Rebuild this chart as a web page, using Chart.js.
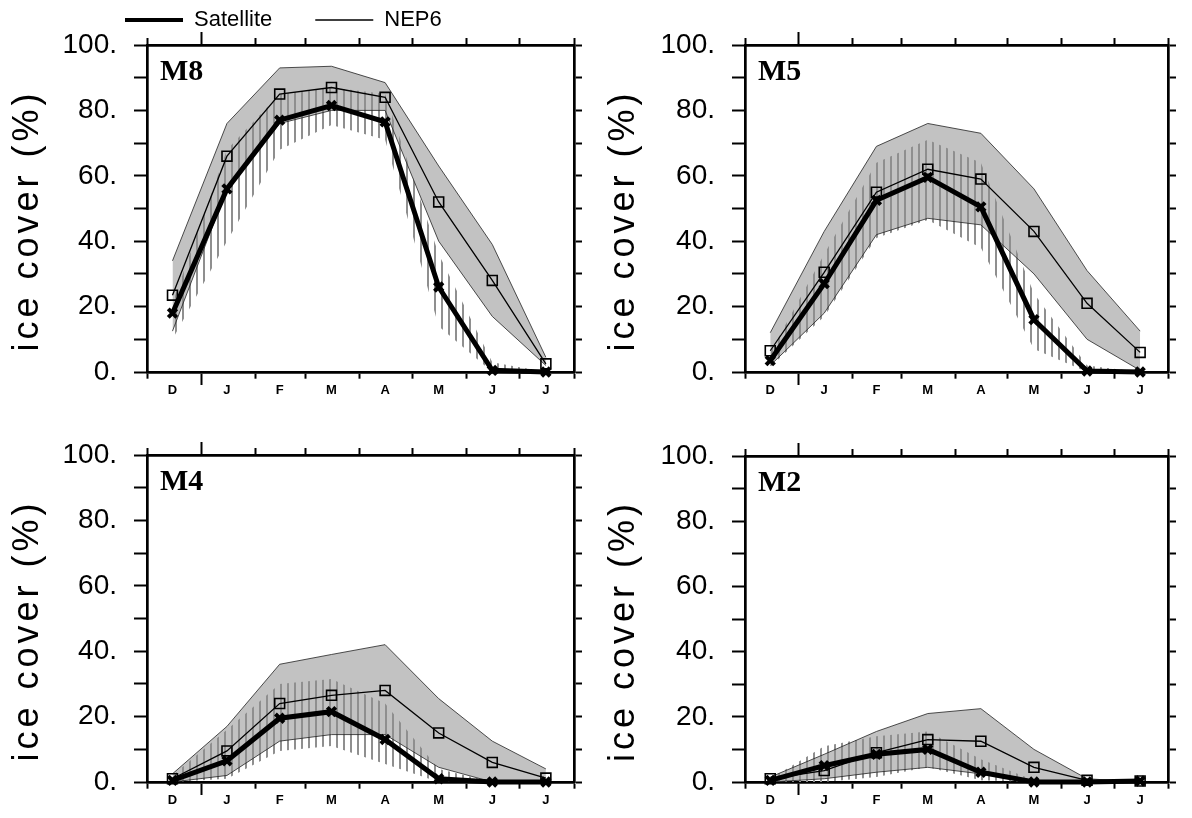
<!DOCTYPE html>
<html><head><meta charset="utf-8">
<script src="https://cdn.jsdelivr.net/npm/chart.js@4.4.1/dist/chart.umd.min.js"></script>
<style>
html,body{margin:0;padding:0;background:#fff;}
#wrap{position:relative;width:1192px;height:818px;overflow:hidden;background:#fff;}
.pane{position:absolute;width:596px;height:409px;}
canvas{display:block;}
</style></head><body>
<div id="wrap">
<div class="pane" style="left:0;top:0"><canvas id="c0" width="596" height="409"></canvas></div>
<div class="pane" style="left:596px;top:0"><canvas id="c1" width="596" height="409"></canvas></div>
<div class="pane" style="left:0;top:409px"><canvas id="c2" width="596" height="409"></canvas></div>
<div class="pane" style="left:596px;top:409px"><canvas id="c3" width="596" height="409"></canvas></div>
</div>
<script>
// ---- data ----
const monthStarts = [0, 31, 62, 90, 121, 151, 182, 212, 243];   // days since 1 Dec (month boundaries)
const monthMid    = [14.5, 45.5, 75.5, 105, 135.5, 166, 196.5, 227]; // mid-month days
const monthLabels = ['D', 'J', 'F', 'M', 'A', 'M', 'J', 'J'];
const yTickValues = [0, 10, 20, 30, 40, 50, 60, 70, 80, 90, 100];
const yTickLabels = ['0.', '20.', '40.', '60.', '80.', '100.'];
const seriesNames = ['Satellite', 'NEP6'];
const panelNames  = ['M8', 'M5', 'M4', 'M2'];
const yTitle = 'ice cover (%)';

const satM8    = [18, 56, 77, 81.5, 76.5, 26, 0.5, 0];
const satMaxM8 = [21, 68, 85, 87, 85, 36, 3, 0];
const satMinM8 = [10, 40, 68, 75.5, 71, 14, 0, 0];
const nepM8    = [23.5, 66, 85, 87, 84, 52, 28, 2.5];
const nepMaxM8 = [34, 76, 93, 93.5, 88.5, 63, 39, 4.5];
const nepMinM8 = [12.5, 56, 76, 80, 80, 40, 17, 2];

const satM5    = [3.5, 27, 52.5, 59.5, 50.5, 16, 0.3, 0];
const satMaxM5 = [6, 36, 64, 71, 64, 24, 2, 0];
const satMinM5 = [1.5, 17, 41, 46.5, 38, 7, 0, 0];
const nepM5    = [6.5, 30.5, 55, 62, 59, 43, 21, 6];
const nepMaxM5 = [12, 43, 69, 76, 73, 56, 31, 12.5];
const nepMinM5 = [2, 18, 42, 47, 45, 30, 10, 0.5];

const satM4    = [0.5, 6.5, 19.5, 21.5, 13, 1, 0, 0];
const satMaxM4 = [2, 16, 30, 31.5, 24, 4, 0, 0];
const satMinM4 = [0, 1, 9.5, 11, 5.5, 0, 0, 0];
const nepM4    = [1, 9.5, 24, 26.5, 28, 15, 6, 1.2];
const nepMaxM4 = [2.5, 17, 36, 39, 42, 25.5, 12.5, 4];
const nepMinM4 = [0, 2, 12.5, 14.5, 14.5, 4.5, 0, 0];

const satM2    = [0.5, 5, 8.5, 10, 3, 0, 0, 0.3];
const satMaxM2 = [1, 11, 14, 15.5, 7, 0.5, 0, 0];
const satMinM2 = [0, 0, 1.5, 4.5, 0.5, 0, 0, 0];
const nepM2    = [1, 3.5, 9, 13, 12.5, 4.5, 0.5, 0.3];
const nepMaxM2 = [1.5, 8.5, 15.5, 21, 22.5, 10, 1, 0];
const nepMinM2 = [0, 1, 3, 4.5, 2.5, 0, 0, 0];

const panelData = [
  [satM8, satMaxM8, satMinM8, nepM8, nepMaxM8, nepMinM8],
  [satM5, satMaxM5, satMinM5, nepM5, nepMaxM5, nepMinM5],
  [satM4, satMaxM4, satMinM4, nepM4, nepMaxM4, nepMinM4],
  [satM2, satMaxM2, satMinM2, nepM2, nepMaxM2, nepMinM2]
];

// ---- layout (canvas-relative plot frames) ----
const W = 596, H = 409;
const frames = [
  {left: 147, right: 574, top: 45, bottom: 372},
  {left: 149, right: 572, top: 45, bottom: 372},
  {left: 147, right: 574, top: 46, bottom: 373},
  {left: 149, right: 572, top: 47, bottom: 373}
];

Chart.defaults.font.family = '"Liberation Sans", Arial, sans-serif';
Chart.defaults.color = '#000';

function hatchPattern(ctx) {
  const c = document.createElement('canvas');
  c.width = 7; c.height = 7;
  const g = c.getContext('2d');
  g.fillStyle = '#8f8f8f';
  g.fillRect(0, 0, 2, 7);
  return ctx.createPattern(c, 'repeat');
}

const pts = arr => arr.map((v, i) => ({x: monthMid[i], y: v}));

const panelLabel = {
  id: 'panelLabel',
  afterDraw(chart, args, opts) {
    const ctx = chart.ctx, a = chart.chartArea;
    ctx.save();
    ctx.font = 'bold 30px "Liberation Serif", "Times New Roman", serif';
    ctx.fillStyle = '#000';
    ctx.textBaseline = 'alphabetic';
    ctx.textAlign = 'left';
    ctx.fillText(opts.text, a.left + 13, a.top + 35);
    ctx.restore();
  }
};

const legendPlace = {
  id: 'legendPlace',
  afterLayout(chart, args, opts) {
    const lg = chart.legend;
    if (!lg || !opts.enabled) return;
    lg.left = opts.left; lg.right = W; lg.width = W - opts.left;
    lg.top = opts.top; lg.bottom = opts.top + 90; lg.height = 90;
  }
};

// wider-spaced axis title, like the original plotting package
function spaceTitle(s) {
  if (s._spaced) return;
  const orig = s.drawTitle.bind(s);
  s.drawTitle = function () {
    const c = this.ctx;
    c.save();
    if ('letterSpacing' in c) c.letterSpacing = '4px';
    c.translate(0, 12);
    orig();
    c.restore();
  };
  s._spaced = true;
}

function makeChart(idx) {
  const f = frames[idx];
  const [sat, satMax, satMin, nep, nepMax, nepMin] = panelData[idx];
  const ctx = document.getElementById('c' + idx).getContext('2d');
  const minorDashBottom = c => (c.tick && c.tick.value === 31) ? [] : [5, 40];
  const showLegend = idx === 0;
  return new Chart(ctx, {
    type: 'line',
    data: {
      datasets: [
        {label: seriesNames[0], data: pts(sat), borderColor: '#000', borderWidth: 5,
         pointStyle: 'crossRot', pointRadius: 6, pointBorderWidth: 4, pointBorderColor: '#000',
         pointBackgroundColor: '#000', fill: false, tension: 0, clip: false},
        {label: seriesNames[1], data: pts(nep), borderColor: '#000', borderWidth: 1.3,
         pointStyle: 'rect', pointRadius: 7, pointBorderWidth: 1.6, pointBorderColor: '#000',
         pointBackgroundColor: 'rgba(0,0,0,0)', fill: false, tension: 0, clip: false},
        {label: 'Satellite range', data: pts(satMax), borderWidth: 0, pointRadius: 0,
         backgroundColor: hatchPattern(ctx), fill: '+1', tension: 0},
        {label: 'Satellite range min', data: pts(satMin), borderWidth: 0, pointRadius: 0, fill: false, tension: 0},
        {label: 'NEP6 range', data: pts(nepMax), borderWidth: 0.8, borderColor: '#222', pointRadius: 0,
         backgroundColor: '#c2c2c2', fill: '+1', tension: 0},
        {label: 'NEP6 range min', data: pts(nepMin), borderWidth: 0.8, borderColor: '#222', pointRadius: 0, fill: false, tension: 0}
      ]
    },
    options: {
      responsive: false,
      animation: false,
      devicePixelRatio: 1,
      layout: {padding: 0},
      plugins: {
        filler: {drawTime: 'beforeDatasetsDraw', propagate: false},
        tooltip: {enabled: false},
        title: {display: false},
        panelLabel: {text: panelNames[idx]},
        legendPlace: {enabled: showLegend, left: 82, top: -34},
        legend: {
          display: showLegend,
          position: 'top',
          align: 'start',
          maxHeight: 0.001,
          labels: {
            filter: item => item.datasetIndex < 2,
            usePointStyle: true,
            pointStyle: 'line',
            pointStyleWidth: 58,
            padding: 43,
            color: '#000',
            font: {size: 22}
          }
        }
      },
      scales: {
        x: {
          type: 'linear', position: 'bottom', min: 0, max: 243, weight: 0,
          afterBuildTicks: s => { s.ticks = monthStarts.map(v => ({value: v})); },
          afterFit: s => { s.height = 8; },
          ticks: {display: false, autoSkip: false},
          grid: {drawOnChartArea: false, drawTicks: true, tickLength: 13, tickWidth: 2, tickColor: '#000',
                 tickBorderDash: minorDashBottom},
          border: {display: true, width: 2.7, color: '#000'}
        },
        xLab: {
          type: 'linear', position: 'bottom', min: 0, max: 243, weight: 1,
          afterBuildTicks: s => { s.ticks = monthMid.map(v => ({value: v})); },
          afterFit: s => { s.height = H - f.bottom - 8; },
          ticks: {autoSkip: false, maxRotation: 0, minRotation: 0, padding: 3, color: '#000',
                  font: {size: 13, weight: 'bold'},
                  callback: (v, i) => monthLabels[i]},
          grid: {display: false, drawTicks: false},
          border: {display: false}
        },
        xTop: {
          type: 'linear', position: 'top', min: 0, max: 243,
          afterBuildTicks: s => { s.ticks = monthStarts.map(v => ({value: v})); },
          afterFit: s => { s.height = f.top; },
          ticks: {display: false, autoSkip: false},
          grid: {drawOnChartArea: false, drawTicks: true, tickLength: 13, tickWidth: 2, tickColor: '#000',
                 tickBorderDash: c => (c.tick && c.tick.value === 31) ? [] : [6, 6],
                 tickBorderDashOffset: c => (c.tick && c.tick.value === 31) ? 0 : 6},
          border: {display: true, width: 2.7, color: '#000'}
        },
        y: {
          type: 'linear', position: 'left', min: 0, max: 100,
          afterBuildTicks: s => { s.ticks = yTickValues.map(v => ({value: v})); },
          afterFit: s => { s.width = f.left; },
          afterUpdate: spaceTitle,
          ticks: {autoSkip: false, padding: 17, color: '#000', font: {size: 28},
                  callback: v => (v % 20 === 0) ? yTickLabels[v / 20] : ''},
          grid: {drawOnChartArea: false, drawTicks: true, tickLength: 13, tickWidth: 2, tickColor: '#000'},
          border: {display: true, width: 2.7, color: '#000'},
          title: {display: true, text: yTitle, color: '#000', font: {size: 36, lineHeight: 1},
                  padding: {top: 10, bottom: 0}}
        },
        yR: {
          type: 'linear', position: 'right', min: 0, max: 100,
          afterBuildTicks: s => { s.ticks = yTickValues.map(v => ({value: v})); },
          afterFit: s => { s.width = W - f.right; },
          ticks: {display: false, autoSkip: false},
          grid: {drawOnChartArea: false, drawTicks: true, tickLength: 8, tickWidth: 2, tickColor: '#000'},
          border: {display: true, width: 2.7, color: '#000'}
        }
      }
    },
    plugins: [panelLabel, legendPlace]
  });
}

for (let i = 0; i < 4; i++) makeChart(i);
</script>
</body></html>
